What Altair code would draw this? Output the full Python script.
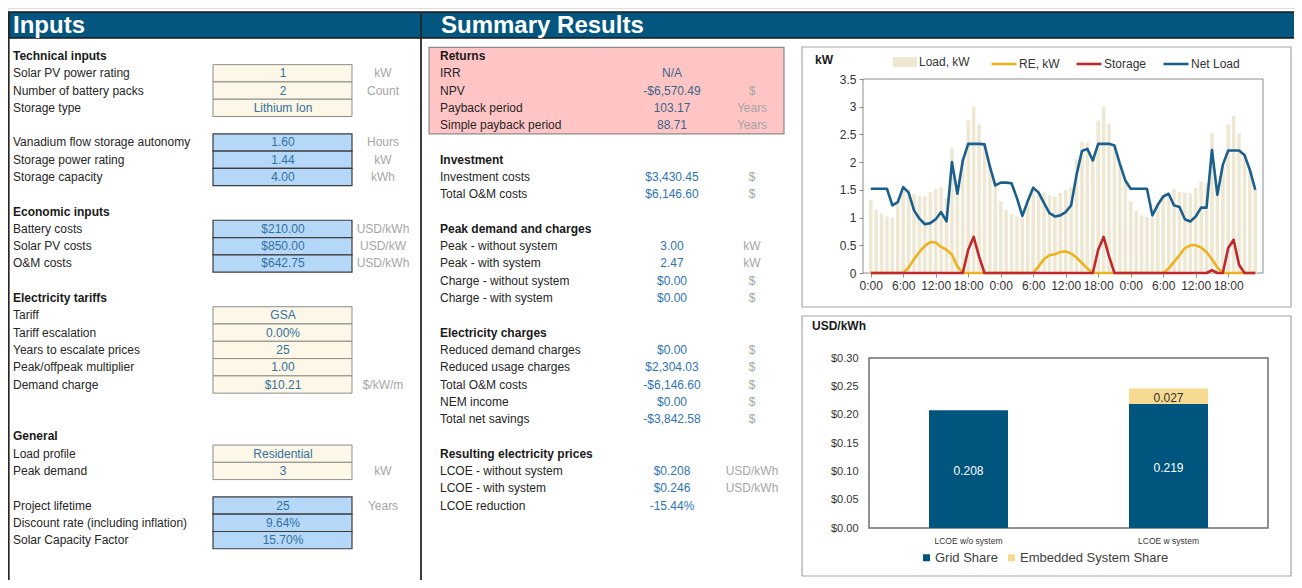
import altair as alt
import pandas as pd

# ---------------- data ----------------
hours = list(range(72))
load_kw = [1.32, 1.14, 1.07, 1.02, 1.00, 1.25, 1.55, 1.52, 1.42, 1.39, 1.38, 1.46,
           1.52, 1.55, 1.35, 2.25, 1.53, 2.05, 2.75, 3.00, 2.68, 2.35, 1.95, 1.60,
           1.30, 1.14, 1.06, 1.02, 1.00, 1.25, 1.55, 1.50, 1.45, 1.40, 1.38, 1.45,
           1.50, 1.55, 2.05, 2.37, 2.35, 2.05, 2.75, 3.00, 2.70, 2.32, 1.95, 1.62,
           1.30, 1.12, 1.04, 1.01, 1.00, 1.25, 1.39, 1.45, 1.52, 1.47, 1.45, 1.44,
           1.54, 1.65, 1.62, 2.52, 1.55, 1.95, 2.68, 2.83, 2.52, 2.15, 1.87, 1.50]
re_kw = [0, 0, 0, 0, 0, 0, 0.00, 0.10, 0.25, 0.38, 0.49, 0.56,
         0.55, 0.47, 0.42, 0.33, 0.12, 0.00, 0, 0, 0, 0, 0, 0,
         0, 0, 0, 0, 0, 0, 0.00, 0.12, 0.25, 0.32, 0.34, 0.38,
         0.39, 0.35, 0.28, 0.18, 0.08, 0.00, 0, 0, 0, 0, 0, 0,
         0, 0, 0, 0, 0, 0, 0.00, 0.08, 0.20, 0.32, 0.45, 0.50,
         0.50, 0.46, 0.38, 0.25, 0.10, 0.00, 0, 0, 0, 0, 0, 0]
storage_kw = [0, 0, 0, 0, 0, 0, 0, 0, 0, 0, 0, 0,
              0, 0, 0, 0, 0, 0, 0.42, 0.65, 0.30, 0, 0, 0,
              0, 0, 0, 0, 0, 0, 0, 0, 0, 0, 0, 0,
              0, 0, 0, 0, 0, 0, 0.42, 0.65, 0.30, 0, 0, 0,
              0, 0, 0, 0, 0, 0, 0, 0, 0, 0, 0, 0,
              0, 0, 0, 0.05, 0, 0, 0.45, 0.60, 0.15, 0, 0, 0]
net_kw = [1.52, 1.52, 1.52, 1.52, 1.22, 1.28, 1.55, 1.45, 1.13, 0.98, 0.88, 0.90,
          0.97, 1.10, 0.93, 2.00, 1.43, 2.03, 2.33, 2.33, 2.33, 2.32, 1.92, 1.58,
          1.63, 1.63, 1.62, 1.35, 1.03, 1.30, 1.54, 1.45, 1.26, 1.08, 1.02, 1.04,
          1.10, 1.22, 1.77, 2.20, 2.24, 2.03, 2.33, 2.33, 2.33, 2.30, 1.97, 1.67,
          1.52, 1.52, 1.52, 1.52, 1.04, 1.23, 1.38, 1.43, 1.22, 1.19, 0.97, 0.93,
          1.02, 1.18, 1.18, 2.22, 1.41, 1.95, 2.21, 2.21, 2.21, 2.13, 1.86, 1.50]
series_names = ["Load, kW", "RE, kW", "Storage", "Net Load"]

lcoe_cats = ["LCOE w/o system", "LCOE w system"]
grid_share = [0.208, 0.219]
embedded_share = [0.0, 0.027]
share_names = ["Grid Share", "Embedded System Share"]
lcoe_ticks = [0.0, 0.05, 0.10, 0.15, 0.20, 0.25, 0.30]
kw_ticks = [0, 0.5, 1, 1.5, 2, 2.5, 3, 3.5]

in_labels = ["Technical inputs", "Solar PV power rating", "Number of battery packs", "Storage type", "",
             "Vanadium flow storage autonomy", "Storage power rating", "Storage capacity", "",
             "Economic inputs", "Battery costs", "Solar PV costs", "O&M costs", "",
             "Electricity tariffs", "Tariff", "Tariff escalation", "Years to escalate prices",
             "Peak/offpeak multiplier", "Demand charge", "", "",
             "General", "Load profile", "Peak demand", "",
             "Project lifetime", "Discount rate (including inflation)", "Solar Capacity Factor"]
in_values = ["", "1", "2", "Lithium Ion", "",
             "1.60", "1.44", "4.00", "",
             "", "$210.00", "$850.00", "$642.75", "",
             "", "GSA", "0.00%", "25", "1.00", "$10.21", "", "",
             "", "Residential", "3", "",
             "25", "9.64%", "15.70%"]
in_units = ["", "kW", "Count", "", "",
            "Hours", "kW", "kWh", "",
            "", "USD/kWh", "USD/kW", "USD/kWh", "",
            "", "", "", "", "", "$/kW/m", "", "",
            "", "", "kW", "",
            "Years", "", ""]
in_kind = ["head", "cream", "cream", "cream", "",
           "blue", "blue", "blue", "",
           "head", "blue", "blue", "blue", "",
           "head", "cream", "cream", "cream", "cream", "cream", "", "",
           "head", "cream", "cream", "",
           "blue", "blue", "blue"]

out_labels = ["Returns", "IRR", "NPV", "Payback period", "Simple payback period", "",
              "Investment", "Investment costs", "Total O&M costs", "",
              "Peak demand and charges", "Peak - without system", "Peak - with system",
              "Charge - without system", "Charge - with system", "",
              "Electricity charges", "Reduced demand charges", "Reduced usage charges",
              "Total O&M costs", "NEM income", "Total net savings", "",
              "Resulting electricity prices", "LCOE - without system", "LCOE - with system",
              "LCOE reduction"]
out_values = ["", "N/A", "-$6,570.49", "103.17", "88.71", "",
              "", "$3,430.45", "$6,146.60", "",
              "", "3.00", "2.47", "$0.00", "$0.00", "",
              "", "$0.00", "$2,304.03", "-$6,146.60", "$0.00", "-$3,842.58", "",
              "", "$0.208", "$0.246", "-15.44%"]
out_units = ["", "", "$", "Years", "Years", "",
             "", "$", "$", "",
             "", "kW", "kW", "$", "$", "",
             "", "$", "$", "$", "$", "$", "",
             "", "USD/kWh", "USD/kWh", ""]
out_kind = ["head", "ret", "ret", "ret", "ret", "",
            "head", "val", "val", "",
            "head", "val", "val", "val", "val", "",
            "head", "val", "val", "val", "val", "val", "",
            "head", "val", "val", "val"]

# ---------------- layout helpers ----------------
OX, OY = 8, 8
W, H = 1286, 572
FONT = "Liberation Sans"
ROW0, ROWH, NROWS = 56, 17.29, 28


def px(x):
    return x - OX


def py(y):
    return y - OY


def row_y(field):
    return alt.Y(field, scale=alt.Scale(domain=[0, NROWS], range=[py(ROW0), py(ROW0 + NROWS * ROWH)],
                                        nice=False, zero=False), axis=None)


def boxes(rows):
    return pd.DataFrame([dict(x0=px(a), y0=py(b), x1=px(c), y1=py(d)) for a, b, c, d in rows])


def rects(df, **kw):
    return alt.Chart(df).mark_rect(**kw).encode(
        x=alt.X("x0:Q", scale=None), x2="x1:Q", y=alt.Y("y0:Q", scale=None), y2="y1:Q")


# background frames
chart_frames = rects(boxes([(802, 47, 1291, 307), (802, 316, 1291, 576)]),
                     fill="white", stroke="#A6A6A6", strokeWidth=1.2)
header = rects(boxes([(8.75, 12, 1300, 38)]), fill="#03567F", stroke="#1A1A1A", strokeWidth=1.5)
panel_lines = alt.Chart(boxes([(8.75, 12, 8.75, 580), (421, 12, 421, 580), (1300, 12, 1300, 580)])).mark_rule(
    color="#262626", strokeWidth=1.8).encode(x=alt.X("x0:Q", scale=None), y=alt.Y("y0:Q", scale=None), y2="y1:Q")

header_txt = alt.Chart(pd.DataFrame({"t": ["Inputs", "Summary Results"], "x": [px(13), px(441)]})).mark_text(
    align="left", baseline="middle", fontSize=24, fontWeight="bold", color="white", font=FONT).encode(
    x=alt.X("x:Q", scale=None), y=alt.value(py(25.5)), text="t:N")

# ---------------- input table ----------------
left = pd.DataFrame({"row": list(range(len(in_labels))), "label": in_labels, "value": in_values,
                     "unit": in_units, "kind": in_kind})
left["y0"] = left["row"] - 0.5
left["y1"] = left["row"] + 0.5

cells_cream = alt.Chart(left).transform_filter("datum.kind == 'cream'").mark_rect(
    fill="#FCF7E6", stroke="#8C8C8C", strokeWidth=1).encode(
    x=alt.value(px(213)), x2=alt.value(px(352)), y=row_y("y0:Q"), y2="y1:Q")
cells_blue = alt.Chart(left).transform_filter("datum.kind == 'blue'").mark_rect(
    fill="#B5D7F8", stroke="#3C3C3C", strokeWidth=1.2).encode(
    x=alt.value(px(213)), x2=alt.value(px(352)), y=row_y("y0:Q"), y2="y1:Q")
left_lab = alt.Chart(left).transform_filter("datum.kind != 'head' && datum.label != ''").mark_text(
    align="left", baseline="middle", fontSize=12, color="#262626", font=FONT).encode(
    x=alt.value(px(13)), y=row_y("row:Q"), text="label:N")
left_head = alt.Chart(left).transform_filter("datum.kind == 'head'").mark_text(
    align="left", baseline="middle", fontSize=12, fontWeight="bold", color="#1A1A1A", font=FONT).encode(
    x=alt.value(px(13)), y=row_y("row:Q"), text="label:N")
left_val = alt.Chart(left).transform_filter("datum.value != ''").mark_text(
    align="center", baseline="middle", fontSize=12, color="#33729F", font=FONT).encode(
    x=alt.value(px(283)), y=row_y("row:Q"), text="value:N")
left_unit = alt.Chart(left).transform_filter("datum.unit != ''").mark_text(
    align="center", baseline="middle", fontSize=12, color="#A6A6A6", font=FONT).encode(
    x=alt.value(px(383)), y=row_y("row:Q"), text="unit:N")

# ---------------- summary table ----------------
mid = pd.DataFrame({"row": list(range(len(out_labels))), "label": out_labels, "value": out_values,
                    "unit": out_units, "kind": out_kind})
pink = alt.Chart(pd.DataFrame({"y0": [-0.5], "y1": [4.5]})).mark_rect(
    fill="#FFC5C5", stroke="#8A8A8A", strokeWidth=1.2).encode(
    x=alt.value(px(429)), x2=alt.value(px(784)), y=row_y("y0:Q"), y2="y1:Q")
mid_lab = alt.Chart(mid).transform_filter("datum.kind != 'head' && datum.label != ''").mark_text(
    align="left", baseline="middle", fontSize=12, color="#262626", font=FONT).encode(
    x=alt.value(px(440)), y=row_y("row:Q"), text="label:N")
mid_head = alt.Chart(mid).transform_filter("datum.kind == 'head'").mark_text(
    align="left", baseline="middle", fontSize=12, fontWeight="bold", color="#1A1A1A", font=FONT).encode(
    x=alt.value(px(440)), y=row_y("row:Q"), text="label:N")
mid_val = alt.Chart(mid).transform_filter("datum.value != ''").mark_text(
    align="center", baseline="middle", fontSize=12, font=FONT).encode(
    x=alt.value(px(672)), y=row_y("row:Q"), text="value:N",
    color=alt.condition("datum.kind == 'ret'", alt.value("#3E6689"), alt.value("#2E74B0")))
mid_unit = alt.Chart(mid).transform_filter("datum.unit != ''").mark_text(
    align="center", baseline="middle", fontSize=12, color="#A6A6A6", font=FONT).encode(
    x=alt.value(px(752)), y=row_y("row:Q"), text="unit:N")

# ---------------- load profile chart ----------------
ts = pd.DataFrame({"hour": hours, "Load, kW": load_kw, "RE, kW": re_kw,
                   "Storage": storage_kw, "Net Load": net_kw})
ts_long = ts.melt(id_vars="hour", var_name="series", value_name="kw")

X_TS = alt.X("hour:Q", scale=alt.Scale(domain=[-0.5, 71.5], range=[px(863), px(1263)], nice=False, zero=False),
             axis=alt.Axis(orient="bottom", offset=py(273) - H, values=list(range(0, 72, 6)),
                           labelExpr="(datum.value % 24) + ':00'", title=None, grid=False,
                           domain=False, tickSize=4, tickColor="#8C8C8C", labelFontSize=12,
                           labelColor="#333333", labelPadding=3, labelFont=FONT, zindex=1,
                           labelOverlap=False))
Y_TS = alt.Y("kw:Q", scale=alt.Scale(domain=[0, 3.5], range=[py(273), py(79)], nice=False),
             axis=alt.Axis(orient="left", offset=-px(863), values=kw_ticks, format="~g", title=None,
                           grid=False, domain=False, tickSize=4, tickColor="#8C8C8C", labelFontSize=12,
                           labelColor="#333333", labelPadding=3, labelFont=FONT, zindex=1,
                           labelOverlap=False))

ts_frame = rects(boxes([(863, 79, 1263, 273)]), fill=None, stroke="#8C8C8C", strokeWidth=1)
line_cols = {"RE, kW": "#EDB21F", "Storage": "#C0282D", "Net Load": "#1B5F8E"}

load_bars = alt.Chart(ts_long).transform_filter("datum.series == 'Load, kW'").mark_bar(size=3.6).encode(
    x=X_TS, y=Y_TS,
    fill=alt.Fill("series:N", scale=alt.Scale(domain=["Load, kW"], range=["#EEE8D3"]),
                  legend=alt.Legend(orient="none", legendX=px(893), legendY=py(50), title=None,
                                    symbolType="M-1,-0.42H1V0.42H-1Z", symbolSize=576,
                                    symbolStrokeWidth=0, labelFontSize=12, labelColor="#333333",
                                    labelOffset=2, padding=0, labelFont=FONT)))


def series_line(name):
    return alt.Chart(ts_long).transform_filter(f"datum.series == '{name}'").mark_line(
        strokeWidth=2.6, strokeJoin="round").encode(
        x=X_TS, y=Y_TS,
        stroke=alt.Stroke("series:N",
                          scale=alt.Scale(domain=list(line_cols), range=list(line_cols.values())),
                          legend=alt.Legend(orient="none", direction="horizontal", legendX=px(990),
                                            legendY=py(50), title=None, symbolType="stroke",
                                            symbolSize=625, symbolStrokeWidth=2.6, labelFontSize=12,
                                            labelColor="#333333", labelOffset=1, columnPadding=11,
                                            padding=0, labelFont=FONT)))


ts_chart = alt.layer(load_bars, series_line("RE, kW"), series_line("Storage"), series_line("Net Load"))

kw_title = alt.Chart(pd.DataFrame({"t": ["kW", "USD/kWh"], "x": [px(815), px(812)], "y": [py(60), py(326)]})).mark_text(
    align="left", baseline="middle", fontSize=12, fontWeight="bold", color="#1A1A1A", font=FONT).encode(
    x=alt.X("x:Q", scale=None), y=alt.Y("y:Q", scale=None), text="t:N")

# ---------------- LCOE chart ----------------
lc_rows = []
for i, cat in enumerate(lcoe_cats):
    lc_rows.append(dict(category=cat, share=share_names[0], value=grid_share[i], ord=0,
                        mid=grid_share[i] / 2))
    lc_rows.append(dict(category=cat, share=share_names[1], value=embedded_share[i], ord=1,
                        mid=grid_share[i] + embedded_share[i] / 2))
lc = pd.DataFrame(lc_rows)

X_LC = alt.X("category:N", sort=lcoe_cats,
             scale=alt.Scale(domain=lcoe_cats, range=[px(869), px(1268)], paddingInner=0.605,
                             paddingOuter=0.3),
             axis=alt.Axis(orient="bottom", offset=py(528) - H, title=None, labelAngle=0, ticks=False,
                           domain=False, labelFontSize=8.5, labelColor="#333333", labelPadding=8,
                           labelFont=FONT, zindex=1))
Y_SCALE_LC = alt.Scale(domain=[0, 0.30], range=[py(528), py(358)], nice=False)
AX_LC = alt.Axis(orient="left", offset=-px(869), values=lcoe_ticks, format="$.2f", title=None,
                 grid=False, domain=False, ticks=False, labelFontSize=11, labelColor="#333333",
                 labelPadding=11, labelFont=FONT, zindex=1, labelOverlap=False)
Y_LC = alt.Y("value:Q", stack="zero", scale=Y_SCALE_LC, axis=AX_LC)

lc_frame = rects(boxes([(869, 358, 1268, 528)]), fill=None, stroke="#6E6E6E", strokeWidth=1.5)
lc_bars = alt.Chart(lc).mark_bar().encode(
    x=X_LC, y=Y_LC, order=alt.Order("ord:Q"),
    fill=alt.Fill("share:N", scale=alt.Scale(domain=share_names, range=["#00557F", "#F6DA92"]),
                  legend=alt.Legend(orient="none", direction="horizontal", legendX=px(920), legendY=py(551),
                                    title=None, symbolType="square", symbolSize=49, symbolStrokeWidth=0,
                                    labelFontSize=13, labelColor="#404040", labelOffset=2,
                                    columnPadding=7, padding=0, labelFont=FONT)))
lc_text = alt.Chart(lc).transform_filter("datum.value > 0").mark_text(
    align="center", baseline="middle", fontSize=12, font=FONT, dy=2).encode(
    x=X_LC, y=alt.Y("mid:Q", scale=Y_SCALE_LC, axis=AX_LC),
    text=alt.Text("value:Q", format=".3f"),
    color=alt.condition("datum.ord == 0", alt.value("white"), alt.value("#333333")))

lc_chart = alt.layer(lc_bars, lc_text)

chart = alt.layer(
    chart_frames, header, panel_lines, header_txt,
    cells_cream, cells_blue, left_lab, left_head, left_val, left_unit,
    pink, mid_lab, mid_head, mid_val, mid_unit,
    kw_title, ts_frame, ts_chart, lc_frame, lc_chart,
).resolve_scale(
    x="independent", y="independent", fill="independent", stroke="independent", color="independent"
).resolve_legend(fill="independent", stroke="independent").properties(
    width=W, height=H, autosize=alt.AutoSizeParams(type="none"), padding=0
).configure_view(strokeWidth=0).configure(font=FONT)

chart.save("out.html", embed_options={"renderer": "svg", "actions": False})
